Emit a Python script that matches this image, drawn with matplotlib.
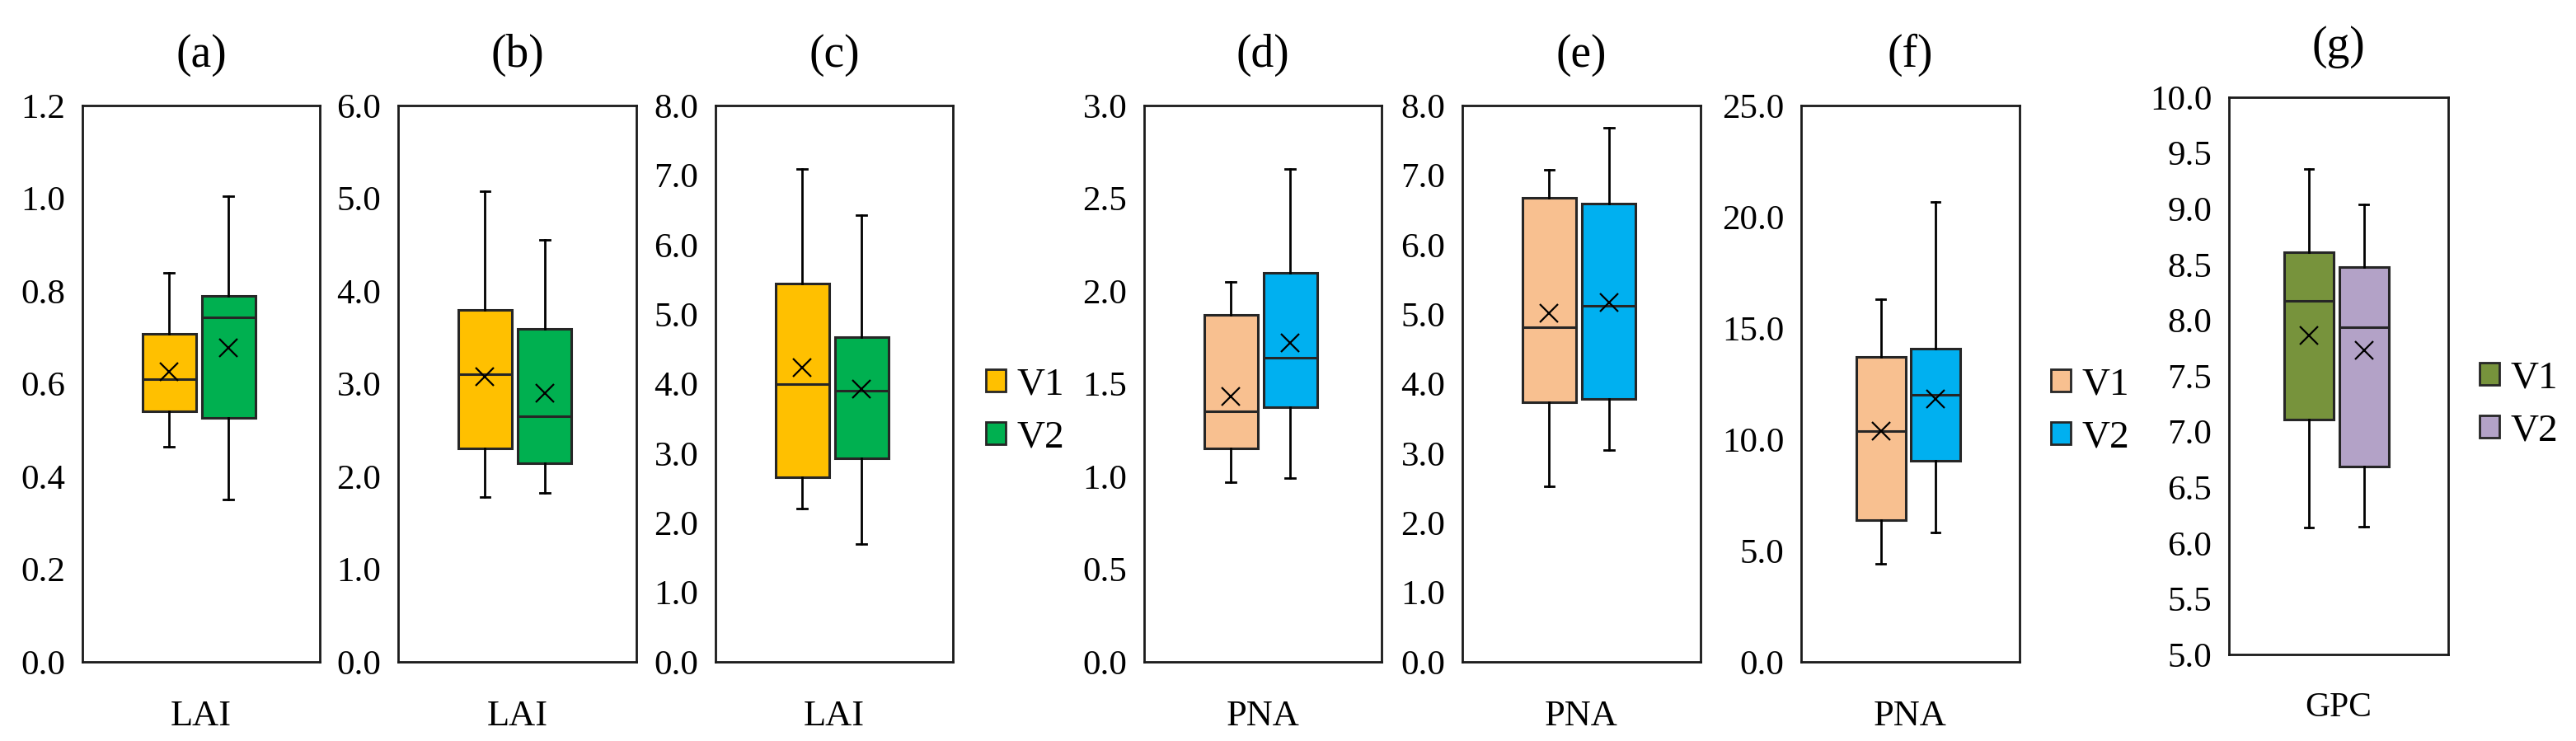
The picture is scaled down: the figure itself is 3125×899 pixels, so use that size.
import matplotlib
matplotlib.use("Agg")
import matplotlib.pyplot as plt
from matplotlib.patches import Patch
import numpy as np

plt.rcParams['font.family'] = ['Liberation Serif', 'DejaVu Serif']

# ---- data: (whisker_low, Q1, median, Q3, whisker_high, mean) ----
panels = ["(a)", "(b)", "(c)", "(d)", "(e)", "(f)", "(g)"]
xlabels = ["LAI", "LAI", "LAI", "PNA", "PNA", "PNA", "GPC"]

a_v1 = [0.464, 0.541, 0.609, 0.708, 0.839, 0.626]
a_v2 = [0.350, 0.527, 0.744, 0.789, 1.004, 0.677]
b_v1 = [1.78, 2.30, 3.10, 3.80, 5.08, 3.08]
b_v2 = [1.82, 2.14, 2.65, 3.59, 4.55, 2.90]
c_v1 = [2.20, 2.65, 3.99, 5.44, 7.09, 4.23]
c_v2 = [1.70, 2.93, 3.90, 4.67, 6.42, 3.92]
d_v1 = [0.97, 1.15, 1.35, 1.87, 2.05, 1.43]
d_v2 = [0.99, 1.375, 1.64, 2.10, 2.66, 1.72]
e_v1 = [2.53, 3.73, 4.81, 6.67, 7.07, 5.01]
e_v2 = [3.05, 3.78, 5.12, 6.59, 7.68, 5.17]
f_v1 = [4.42, 6.38, 10.37, 13.69, 16.28, 10.37]
f_v2 = [5.80, 9.03, 12.01, 14.07, 20.68, 11.80]
g_v1 = [6.14, 7.11, 8.17, 8.61, 9.36, 7.86]
g_v2 = [6.15, 6.69, 7.94, 8.48, 9.04, 7.73]

series = [(a_v1, a_v2), (b_v1, b_v2), (c_v1, c_v2), (d_v1, d_v2),
          (e_v1, e_v2), (f_v1, f_v2), (g_v1, g_v2)]

ylims = [(0, 1.2), (0, 6), (0, 8), (0, 3), (0, 8), (0, 25), (5, 10)]
ysteps = [0.2, 1.0, 1.0, 0.5, 1.0, 5.0, 0.5]

col_lai = ("#FFC000", "#00B050")
col_pna = ("#F8C090", "#00B0F0")
col_gpc = ("#77933C", "#B3A2C7")
colors = [col_lai] * 3 + [col_pna] * 3 + [col_gpc]
legend_labels = ["V1", "V2"]

# ---- layout (pixels) ----
W, H = 3125, 899
boxes_px = [(100, 388, 128, 803), (483, 772, 128, 803), (868, 1156, 128, 803),
            (1388, 1676, 128, 803), (1774, 2063, 128, 803), (2185, 2450, 128, 803),
            (2704, 2970, 118, 794)]

fig = plt.figure(figsize=(W / 100, H / 100), dpi=100)

for i, (l, r, t, b) in enumerate(boxes_px):
    ax = fig.add_axes([l / W, 1 - b / H, (r - l) / W, (b - t) / H])
    stats = []
    for s in series[i]:
        stats.append(dict(whislo=s[0], q1=s[1], med=s[2], q3=s[3], whishi=s[4],
                          mean=s[5], fliers=[], label=""))
    bp = ax.bxp(stats, positions=[1, 2], widths=0.9, patch_artist=True,
                showmeans=True, showfliers=False,
                boxprops=dict(linewidth=2.2, edgecolor="#262626"),
                medianprops=dict(color="#262626", linewidth=2.2),
                whiskerprops=dict(color="black", linewidth=2.0),
                capprops=dict(color="black", linewidth=2.0),
                meanprops=dict(marker="x", markeredgecolor="black",
                               markersize=16, markeredgewidth=1.6))
    for patch, c in zip(bp["boxes"], colors[i]):
        patch.set_facecolor(c)
    for cap in bp["caps"]:
        xd = cap.get_xdata()
        mid = (xd[0] + xd[1]) / 2
        cap.set_xdata([mid - 0.08, mid + 0.08])
    ax.set_xlim(-0.46, 3.54)
    lo, hi = ylims[i]
    ax.set_ylim(lo, hi)
    ticks = np.round(np.arange(lo, hi + ysteps[i] / 2, ysteps[i]), 4)
    ax.set_yticks(ticks)
    ax.set_yticklabels([f"{v:.1f}" for v in ticks])
    ax.set_xticks([])
    ax.tick_params(axis="y", length=0, pad=15, labelsize=31)
    for sp in ax.spines.values():
        sp.set_linewidth(2.0)
        sp.set_color("#1a1a1a")
    ax.set_title(panels[i], fontsize=40, pad=34)
    ax.set_xlabel(xlabels[i], fontsize=32 if i < 6 else 30, labelpad=33)

# ---- legends ----
legend_pos = [(1196, 499, col_lai), (2488, 499, col_pna), (3008, 491, col_gpc)]
for (x, y, cols) in legend_pos:
    handles = [Patch(facecolor=c, edgecolor="#262626", linewidth=2.0) for c in cols]
    fig.legend(handles=handles, labels=legend_labels, loc="center left",
               bbox_to_anchor=(x / W, 1 - y / H), bbox_transform=fig.transFigure,
               frameon=False, fontsize=34, handlelength=0.5, handleheight=0.5,
               handletextpad=0.3, labelspacing=0.45, borderpad=0, borderaxespad=0)

fig.savefig("out.png", dpi=100)
